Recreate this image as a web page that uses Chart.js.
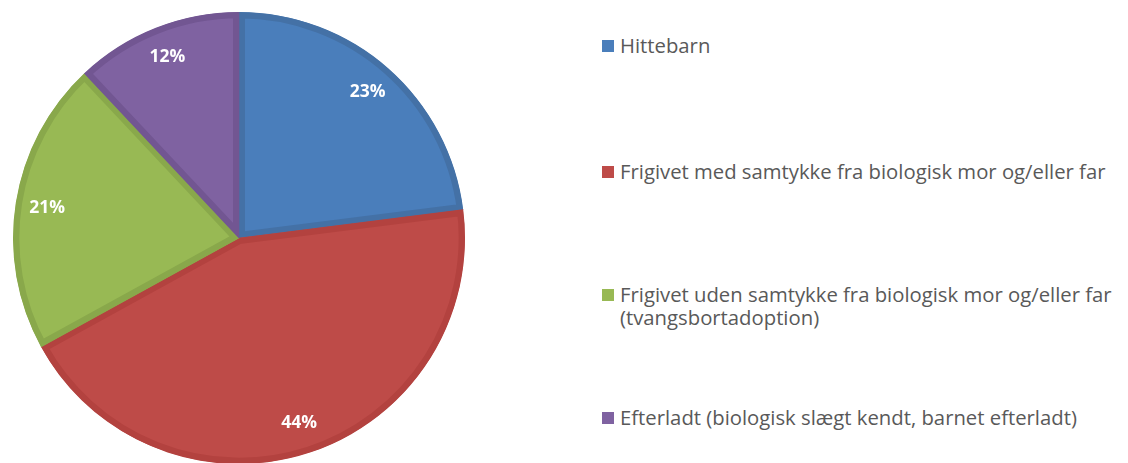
<!DOCTYPE html>
<html>
<head>
<meta charset="utf-8">
<script src="https://cdn.jsdelivr.net/npm/chart.js@4/dist/chart.umd.min.js"></script>
<style>
  html, body { margin: 0; padding: 0; background: #fff; overflow: hidden; }
  #wrap { position: relative; width: 1128px; height: 463px; }
  #pieBox { position: absolute; left: 0; top: 0; width: 478px; height: 480px; }
  #legend { position: absolute; left: 602px; top: 0; font-family: "Open Sans", Lato, sans-serif; font-size: 20.3px; color: #595959; }
  .item { position: absolute; left: 0; white-space: nowrap; line-height: 23px; }
  .box { position: absolute; left: 0; top: 6px; width: 12px; height: 12px; }
  .txt { position: absolute; left: 18px; top: 0; }
</style>
</head>
<body>
<div id="wrap">
  <div id="pieBox"><canvas id="pieChart"></canvas></div>
  <div id="legend"></div>
</div>
<script>
// Kategorier og andele (%)
const labels = [
  'Hittebarn',
  'Frigivet med samtykke fra biologisk mor og/eller far',
  ['Frigivet uden samtykke fra biologisk mor og/eller far', '(tvangsbortadoption)'],
  'Efterladt (biologisk slægt kendt, barnet efterladt)'
];
const values = [23, 44, 21, 12];

// Farver
const fillColors = ['#4a7ebb', '#be4b48', '#98b954', '#7f62a1'];
const borderColors = ['#4471a6', '#b3423f', '#89a84b', '#725692'];

// Legend: lodret placering (top af første linje)
const legendTops = [34, 160, 283, 406];

// Legend i HTML
const legendEl = document.getElementById('legend');
labels.forEach((label, i) => {
    const lines = Array.isArray(label) ? label : [label];
    const item = document.createElement('div');
    item.className = 'item';
    item.style.top = legendTops[i] + 'px';
    item.innerHTML = `<div class="box" style="background:${fillColors[i]}"></div>` +
        `<div class="txt">${lines.join('<br>')}</div>`;
    legendEl.appendChild(item);
});

// Procent-etiketter inde i skiverne
const percentLabels = {
    id: 'percentLabels',
    afterDatasetsDraw(chart) {
        const ctx = chart.ctx;
        const meta = chart.getDatasetMeta(0);
        ctx.save();
        ctx.font = 'bold 17.5px "Open Sans", Lato, sans-serif';
        ctx.fillStyle = '#ffffff';
        ctx.textAlign = 'center';
        ctx.textBaseline = 'middle';
        meta.data.forEach((arc, i) => {
            const p = arc.getProps(['x', 'y', 'startAngle', 'endAngle', 'outerRadius'], true);
            const mid = (p.startAngle + p.endAngle) / 2;
            const r = p.outerRadius * 0.86;
            ctx.fillText(values[i] + '%', p.x + Math.cos(mid) * r, p.y + Math.sin(mid) * r);
        });
        ctx.restore();
    }
};

const ctxPie = document.getElementById('pieChart').getContext('2d');
const pieChart = new Chart(ctxPie, {
    type: 'pie',
    data: {
        labels: labels,
        datasets: [{
            data: values,
            backgroundColor: fillColors,
            borderColor: borderColors,
            borderWidth: 6,
            borderAlign: 'inner'
        }]
    },
    options: {
        responsive: true,
        maintainAspectRatio: false,
        animation: false,
        layout: { padding: { left: 13, right: 13, top: 12, bottom: 16 } },
        plugins: {
            legend: { display: false },
            tooltip: { enabled: false }
        }
    },
    plugins: [percentLabels]
});
</script>
</body>
</html>
